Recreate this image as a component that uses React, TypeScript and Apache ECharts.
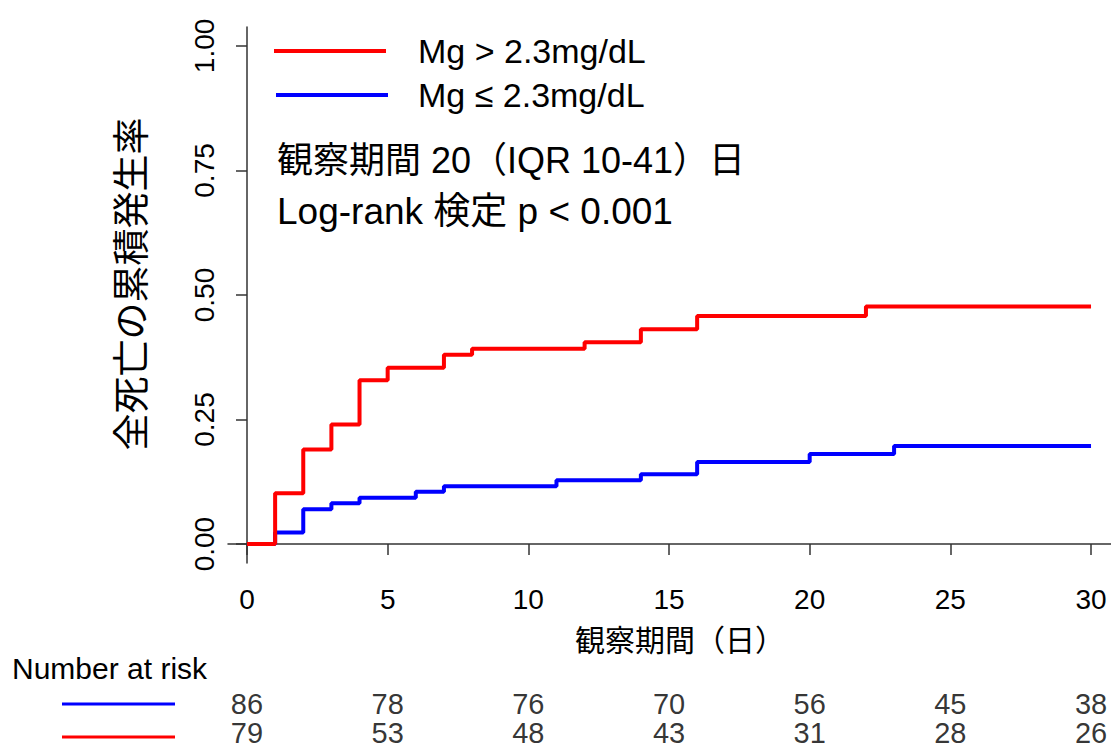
import React, { useEffect, useRef } from "react";
import * as echarts from "echarts";

// Kaplan–Meier cumulative incidence (step at each time)
const redTimes = [0, 1, 2, 3, 4, 5, 7, 8, 12, 14, 16, 22, 30];
const redValues = [0, 0.102, 0.19, 0.24, 0.329, 0.354, 0.38, 0.392, 0.405, 0.431, 0.458, 0.477, 0.477];
const blueTimes = [0, 1, 2, 3, 4, 6, 7, 11, 14, 16, 20, 23, 30];
const blueValues = [0, 0.023, 0.07, 0.082, 0.093, 0.105, 0.116, 0.128, 0.14, 0.165, 0.181, 0.197, 0.197];

const xTicks = [0, 5, 10, 15, 20, 25, 30];
const yTicks = [0, 0.25, 0.5, 0.75, 1];
const riskTimes = [0, 5, 10, 15, 20, 25, 30];
const riskBlue = [86, 78, 76, 70, 56, 45, 38];
const riskRed = [79, 53, 48, 43, 31, 28, 26];

const redName = "Mg > 2.3mg/dL";
const blueName = "Mg ≤ 2.3mg/dL";
const yTitle = "全死亡の累積発生率";
const xTitle = "観察期間（日）";
const note1 = "観察期間 20（IQR 10-41）日";
const note2 = "Log-rank 検定 p < 0.001";
const riskTitle = "Number at risk";

const FONT = '"Liberation Sans", Arial, "Noto Sans CJK JP", sans-serif';
const RED = "#ff0000";
const BLUE = "#0000ff";
const AXIS = "#333333";

export default function App() {
  const ref = useRef<HTMLDivElement>(null);
  useEffect(() => {
    if (!ref.current) return;
    const chart = echarts.init(ref.current, undefined, { renderer: "svg" });
    const xMin = -0.675;
    const xMax = 30.71;
    const riskLabel = {
      show: true,
      position: "inside",
      fontSize: 29,
      color: "#000",
      fontFamily: FONT,
      formatter: (p: any) => String(p.value[2]),
    };
    const option: any = {
      animation: false,
      backgroundColor: "#ffffff",
      textStyle: { fontFamily: FONT },
      grid: [
        { left: 228, right: 0, top: 27, height: 536, containLabel: false },
        { left: 228, right: 0, top: 689, height: 64, containLabel: false },
      ],
      xAxis: [
        {
          type: "value",
          gridIndex: 0,
          min: xMin,
          max: xMax,
          splitLine: { show: false },
          axisLine: { show: true, lineStyle: { color: AXIS, width: 1.5 } },
          axisTick: { show: true, length: 11, lineStyle: { color: AXIS, width: 1.5 }, customValues: xTicks },
          axisLabel: {
            customValues: xTicks,
            fontSize: 28,
            color: "#000",
            fontFamily: FONT,
            margin: 22,
            formatter: (v: number) => String(v),
          },
        },
        {
          type: "value",
          gridIndex: 1,
          min: xMin,
          max: xMax,
          show: false,
        },
      ],
      yAxis: [
        {
          type: "value",
          gridIndex: 0,
          min: -0.038,
          max: 1.038,
          splitLine: { show: false },
          axisLine: { show: true, lineStyle: { color: AXIS, width: 1.5 } },
          axisTick: { show: true, length: 11, lineStyle: { color: AXIS, width: 1.5 }, customValues: yTicks },
          axisLabel: {
            customValues: yTicks,
            rotate: 90,
            fontSize: 28,
            color: "#000",
            fontFamily: FONT,
            margin: 10,
            formatter: (v: number) => v.toFixed(2),
          },
        },
        {
          type: "category",
          gridIndex: 1,
          data: ["red", "blue"],
          show: false,
        },
      ],
      series: [
        {
          name: blueName,
          type: "line",
          step: "end",
          xAxisIndex: 0,
          yAxisIndex: 0,
          symbol: "none",
          lineStyle: { color: BLUE, width: 4 },
          data: blueTimes.map((t, i) => [t, blueValues[i]]),
          z: 2,
        },
        {
          name: redName,
          type: "line",
          step: "end",
          xAxisIndex: 0,
          yAxisIndex: 0,
          symbol: "none",
          lineStyle: { color: RED, width: 4 },
          data: redTimes.map((t, i) => [t, redValues[i]]),
          z: 3,
        },
        {
          type: "scatter",
          xAxisIndex: 1,
          yAxisIndex: 1,
          symbolSize: 1,
          itemStyle: { color: "transparent" },
          label: riskLabel,
          data: riskTimes.map((t, i) => [t, "blue", riskBlue[i]]),
        },
        {
          type: "scatter",
          xAxisIndex: 1,
          yAxisIndex: 1,
          symbolSize: 1,
          itemStyle: { color: "transparent" },
          label: riskLabel,
          data: riskTimes.map((t, i) => [t, "red", riskRed[i]]),
        },
      ],
      graphic: [
        // legend
        { type: "line", shape: { x1: 274, y1: 51, x2: 386, y2: 51 }, style: { stroke: RED, lineWidth: 4 } },
        { type: "line", shape: { x1: 276, y1: 95, x2: 388, y2: 95 }, style: { stroke: BLUE, lineWidth: 4 } },
        { type: "text", x: 418, y: 51, style: { text: redName, font: `34px ${FONT}`, fill: "#000", textVerticalAlign: "middle", textAlign: "left" } },
        { type: "text", x: 418, y: 95, style: { text: blueName, font: `34px ${FONT}`, fill: "#000", textVerticalAlign: "middle", textAlign: "left" } },
        // annotation
        { type: "text", x: 277, y: 160, style: { text: note1, font: `36px ${FONT}`, fill: "#000", textVerticalAlign: "middle", textAlign: "left" } },
        { type: "text", x: 277, y: 211, style: { text: note2, font: `37px ${FONT}`, fill: "#000", textVerticalAlign: "middle", textAlign: "left" } },
        // axis titles
        { type: "text", x: 132, y: 284, rotation: Math.PI / 2, style: { text: yTitle, font: `37px ${FONT}`, fill: "#000", textVerticalAlign: "middle", textAlign: "center" } },
        { type: "text", x: 680, y: 640, style: { text: xTitle, font: `30px ${FONT}`, fill: "#000", textVerticalAlign: "middle", textAlign: "center" } },
        // number at risk
        { type: "text", x: 12, y: 668, style: { text: riskTitle, font: `30px ${FONT}`, fill: "#000", textVerticalAlign: "middle", textAlign: "left" } },
        { type: "line", shape: { x1: 62, y1: 704, x2: 175, y2: 704 }, style: { stroke: BLUE, lineWidth: 3 } },
        { type: "line", shape: { x1: 62, y1: 737, x2: 175, y2: 737 }, style: { stroke: RED, lineWidth: 3 } },
      ],
    };
    chart.setOption(option);
    return () => chart.dispose();
  }, []);
  return (
    <div
      ref={ref}
      style={{ position: "absolute", left: 0, top: 0, width: 1111, height: 747, background: "#fff" }}
    />
  );
}
